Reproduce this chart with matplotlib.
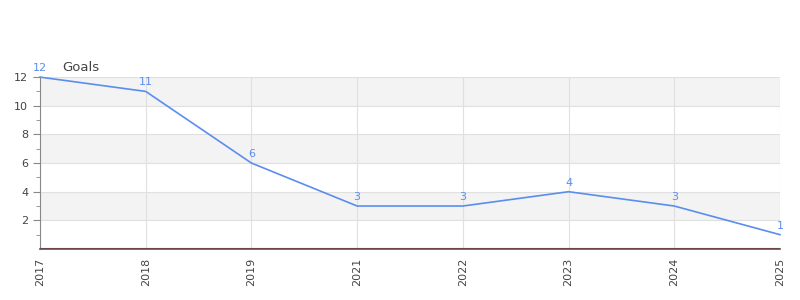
import matplotlib
matplotlib.use('Agg')
import matplotlib.pyplot as plt
import numpy as np

years = ['2017', '2018', '2019', '2021', '2022', '2023', '2024', '2025']
goals = [12, 11, 6, 3, 3, 4, 3, 1]

lineColor = '#5b8def'
textColor = '#444444'

fig = plt.figure(figsize=(8, 3), dpi=100)
ax = fig.add_axes([0.05, 0.17, 0.925, 0.573])

xs = np.arange(len(years))

# alternating bands
for lo in range(2, 12, 4):
    ax.axhspan(lo, lo + 2, color='#f3f3f3', zorder=0, lw=0)
for y in range(2, 13, 2):
    ax.axhline(y, color='#e0e0e0', lw=0.8, zorder=1)
for x in xs:
    ax.axvline(x, color='#e0e0e0', lw=0.8, zorder=1)

ax.axhline(0.06, color='#e00000', lw=0.8, zorder=2)
ax.plot(xs, goals, color=lineColor, lw=1.2, zorder=3, clip_on=False)

for x, v in zip(xs, goals):
    ax.annotate(str(v), (x, v), xytext=(0, 3), textcoords='offset points',
                ha='center', va='bottom', fontsize=8, color=lineColor,
                annotation_clip=False)

ax.set_xlim(0, len(years) - 1)
ax.set_ylim(0, 12)
ax.set_xticks(xs)
ax.set_xticklabels(years, rotation=90)
ax.set_yticks(range(2, 13, 2))
ax.set_yticks(range(1, 13, 2), minor=True)
ax.tick_params(axis='both', labelsize=8, colors=textColor)
ax.tick_params(axis='y', which='major', length=5, color='#888888')
ax.tick_params(axis='y', which='minor', length=3, color='#888888')
ax.tick_params(axis='x', length=0, pad=6)

for s in ['top', 'right']:
    ax.spines[s].set_visible(False)
ax.spines['left'].set_color('#888888')
ax.spines['bottom'].set_color('#555555')
ax.spines['bottom'].set_linewidth(1.2)

fig.text(0.0775, 0.752, 'Goals', fontsize=9.5, color=textColor, ha='left', va='bottom')

fig.savefig('out.png', dpi=100)
